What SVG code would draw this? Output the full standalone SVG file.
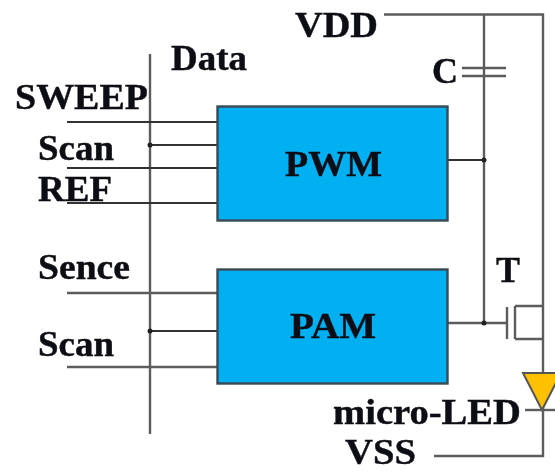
<svg xmlns="http://www.w3.org/2000/svg" width="555" height="472" viewBox="0 0 555 472">
<style>
.t{font-family:"Liberation Serif","Times New Roman",serif;font-weight:bold;font-size:36px;fill:#0c0c14;stroke:#0c0c14;stroke-width:.4}
.w{fill:none;stroke:#5c5c5c;stroke-width:2.4}
.d{fill:none;stroke:#333;stroke-width:2}
.b{fill:#00b0f0;stroke:#3a4a55;stroke-width:2.4}
.j{fill:#222}
g{filter:url(#soft)}
</style>
<defs><filter id="soft" x="-5%" y="-5%" width="110%" height="110%"><feGaussianBlur stdDeviation="0.45"/></filter></defs>
<rect width="555" height="472" fill="#fff"/>
<g id="connectors">
<path class="w" d="M384 14.500H543V456H434"/>
<path class="w" d="M484 14.500V323"/>
<path class="w" d="M150 54V434"/>
<path class="w" d="M462 68H506M462 76H506"/>
<path class="d" d="M67 122H217M150 145H217M67 168H217M67 203H217"/>
<path class="d" d="M448 160H484"/>
<path class="w" d="M67 293H217M67 367H217"/>
<path class="d" d="M150 331H217"/>
<path class="w" d="M448 323H507"/>
<path class="w" d="M507 307V339M515 306V339M515 306H543M515 339H543"/>
<circle class="j" cx="150" cy="145" r="2.500"/>
<circle class="j" cx="150" cy="331" r="2.500"/>
<circle class="j" cx="484" cy="160" r="2.500"/>
<circle class="j" cx="484" cy="323" r="2.500"/>
</g>
<g id="pwm"><rect class="b" x="217.500" y="106.500" width="230" height="114"/><text class="t" x="285" y="176" textLength="97" lengthAdjust="spacingAndGlyphs">PWM</text></g>
<g id="pam"><rect class="b" x="217.500" y="269.500" width="230" height="114"/><text class="t" x="290" y="338" textLength="86" lengthAdjust="spacingAndGlyphs">PAM</text></g>
<g id="led"><polygon points="523,373 561,373 542,410" fill="#ffc000" stroke="#555" stroke-width="2"/><path class="w" d="M525 410H555"/></g>
<g id="labels">
<text class="t" x="295" y="37" textLength="83" lengthAdjust="spacingAndGlyphs">VDD</text>
<text class="t" x="171" y="70" textLength="76" lengthAdjust="spacingAndGlyphs">Data</text>
<text class="t" x="432" y="83" textLength="26" lengthAdjust="spacingAndGlyphs">C</text>
<text class="t" x="15" y="109" textLength="133" lengthAdjust="spacingAndGlyphs">SWEEP</text>
<text class="t" x="38" y="160" textLength="76" lengthAdjust="spacingAndGlyphs">Scan</text>
<text class="t" x="38" y="201" textLength="74" lengthAdjust="spacingAndGlyphs">REF</text>
<text class="t" x="38" y="279" textLength="92" lengthAdjust="spacingAndGlyphs">Sence</text>
<text class="t" x="38" y="356" textLength="76" lengthAdjust="spacingAndGlyphs">Scan</text>
<text class="t" x="496" y="282" textLength="24" lengthAdjust="spacingAndGlyphs">T</text>
<text class="t" x="333" y="424" textLength="188" lengthAdjust="spacingAndGlyphs">micro-LED</text>
<text class="t" x="345" y="464" textLength="71" lengthAdjust="spacingAndGlyphs">VSS</text>
</g>
</svg>
